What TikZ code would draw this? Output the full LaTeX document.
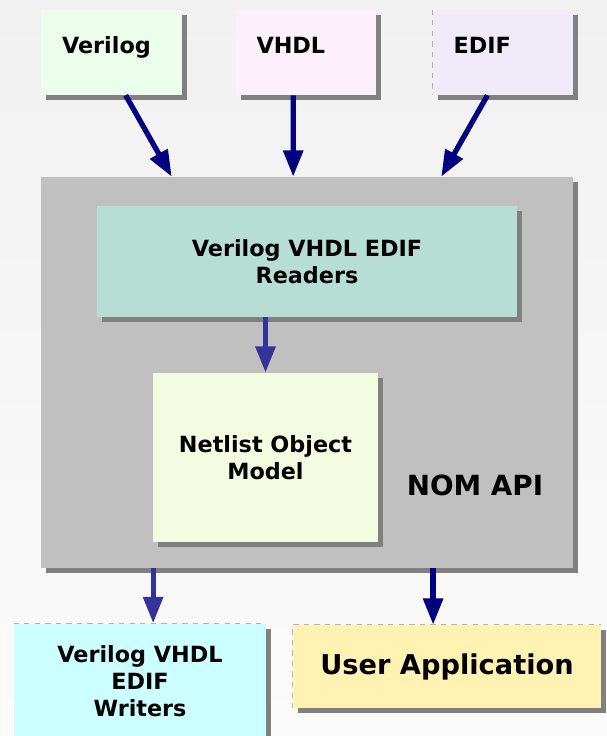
\documentclass[tikz,border=0pt]{standalone}
\usepackage{fontspec}
\setmainfont{DejaVu Sans}
\usetikzlibrary{shadows,arrows.meta,calc}

\definecolor{navy}{HTML}{000080}
\definecolor{indigo}{HTML}{333399}
\definecolor{boxshade}{HTML}{808080}
\definecolor{apigray}{HTML}{C0C0C0}
\definecolor{verilogc}{HTML}{EBFDEB}
\definecolor{vhdlc}{HTML}{FDF0FB}
\definecolor{edifc}{HTML}{F1EAF8}
\definecolor{readerc}{HTML}{B7DED5}
\definecolor{nomc}{HTML}{F3FCE0}
\definecolor{writerc}{HTML}{CCFFFF}
\definecolor{userc}{HTML}{FFF2B3}
\definecolor{bgtop}{HTML}{F1F1F1}
\definecolor{bgbot}{HTML}{FBFBFB}

\begin{document}
\begin{tikzpicture}[x=0.02cm,y=-0.02cm,
  box/.style={fill=#1, inner sep=0pt, align=center,
    font=\bfseries\fontsize{12.7}{15.3}\selectfont,
    drop shadow={shadow xshift=0.1cm, shadow yshift=-0.1cm, fill=boxshade, opacity=1}},
  src/.style={box=#1, minimum width=2.82cm, minimum height=1.7cm, text width=1.98cm, align=left, text depth=8pt},
  flow/.style={line width=3pt, draw=#1, -{Triangle[length=15pt,width=11pt]}},
  seam/.style={dashed, draw=gray!60, line width=0.4pt}]
\path[use as bounding box, top color=bgtop, bottom color=bgbot] (0,0) rectangle (607,736);

\node[src=verilogc] (verilog) at (111.5,52.5) {Verilog};
\node[src=vhdlc] (vhdl) at (306,52.5) {VHDL};
\node[src=edifc] (edif) at (503,52.5) {EDIF};
\draw[seam] (edif.north west) -- (edif.south west);

\node[box=apigray, minimum width=10.64cm, minimum height=7.82cm] (nom) at (307,372.5) {};
\node[box=readerc, minimum width=8.4cm, minimum height=2.22cm] (readers) at (307,261.5) {Verilog VHDL EDIF\\Readers};
\node[box=nomc, minimum width=4.5cm, minimum height=3.38cm] (netlist) at (265.5,457.5) {Netlist Object\\Model};
\node[font=\bfseries\fontsize{15.8}{18}\selectfont] (api) at (475,485) {NOM API};

\node[box=writerc, minimum width=5.04cm, minimum height=2.3cm] (writers) at (140,681) {Verilog VHDL\\EDIF\\Writers};
\node[box=userc, minimum width=6.16cm, minimum height=1.66cm, font=\bfseries\fontsize{15.5}{18}\selectfont] (user) at (447,666.5) {User Application};
\draw[seam] (writers.north west) -- (writers.north east);
\draw[seam] (user.south west) -- (user.north west) -- (user.north east);

\draw[flow=navy] ($(verilog.south west)!0.6!(verilog.south east)$) -- ($(nom.north west)!0.246!(nom.north east)$);
\draw[flow=navy] ($(vhdl.south west)!0.41!(vhdl.south east)$) -- ($(nom.north west)!0.474!(nom.north east)$);
\draw[flow=navy] ($(edif.south west)!0.39!(edif.south east)$) -- ($(nom.north west)!0.752!(nom.north east)$);
\draw[flow=indigo] (readers.south -| netlist.north) -- (netlist.north);

\coordinate (wr-in) at ($(writers.north west)!0.552!(writers.north east)$);
\coordinate (us-in) at ($(user.north west)!0.455!(user.north east)$);
\draw[flow=indigo] (nom.south -| wr-in) -- (wr-in);
\draw[flow=navy] (nom.south -| us-in) -- (us-in);
\end{tikzpicture}
\end{document}
